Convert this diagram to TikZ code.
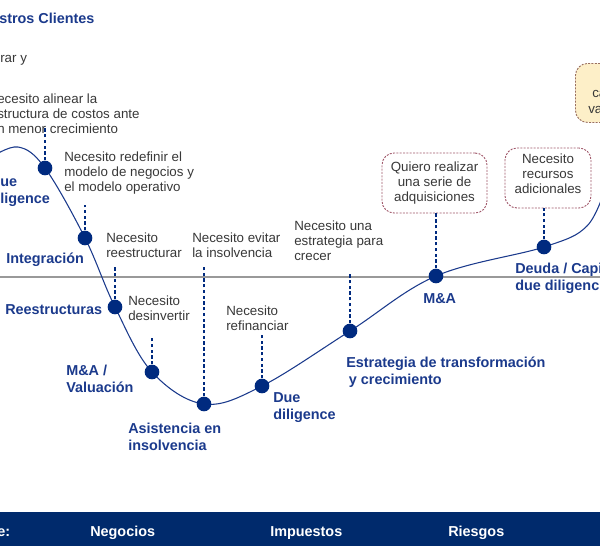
\documentclass[tikz,border=0pt]{standalone}
\usepackage{fontspec}
\setmainfont{Liberation Sans}
\definecolor{navy}{HTML}{1B3A8C}
\definecolor{dotblue}{HTML}{002A7F}
\definecolor{barblue}{HTML}{002A6C}
\definecolor{needgray}{HTML}{383838}
\definecolor{boxred}{HTML}{A0586A}
\definecolor{paleyellow}{HTML}{FDEFC8}
\definecolor{boxbrown}{HTML}{9A7060}
\begin{document}
\begin{tikzpicture}[x=0.75pt,y=-0.75pt,
  need/.style={font=\fontsize{10}{11.25}\selectfont, text=needgray, inner sep=0pt, align=left},
  stage/.style={font=\fontsize{10.8}{12.75}\selectfont\bfseries, text=navy, inner sep=0pt, align=left},
  dot/.style={circle, fill=dotblue, minimum size=11pt, inner sep=0pt},
  lead/.style={dotblue, line width=0.9pt, dash pattern=on 2.5pt off 1.8pt},
  curve/.style={navy, line width=0.8pt},
  needbox/.style={need, align=center, draw=boxred, line width=0.7pt, dash pattern=on 1.5pt off 1pt, rounded corners=9pt},
  bartext/.style={font=\fontsize{10.8}{12}\selectfont\bfseries, text=white, inner sep=0pt, anchor=base west}]
\useasboundingbox (0,0) rectangle (600,546);
\clip (0,0) rectangle (600,546);

%% middle line
\draw[gray!80, line width=1.5pt] (0,277) -- (600,277);

%% the curve and its points
\path (45,168) coordinate (p1) (85,238) coordinate (p2) (115,307) coordinate (p3)
      (152,372) coordinate (p4) (204,404) coordinate (p5) (262,386) coordinate (p6)
      (350,331) coordinate (p7) (436,276) coordinate (p8) (544,247) coordinate (p9);
\draw[curve] plot[smooth, tension=0.6] coordinates {(-10,158) (18,147) (p1) (p2) (p3) (p4) (p5) (p6) (p7) (p8) (p9) (587,226) (606,186)};
\foreach \i in {1,...,9}{
  \node[dot] (d\i) at (p\i) {};
}
\foreach \i/\top in {1/126,2/205,3/267,4/338,5/267,6/335,7/272}{
  \draw[lead] (d\i) -- (d\i |- 0,\top);
}

%% boxes
\node[needbox, minimum width=78.75pt, minimum height=45pt] (b1) at (434.5,183) {Quiero realizar\\una serie de\\adquisiciones};
\node[needbox, minimum width=64.5pt, minimum height=45pt, text depth=6.75pt] (b2) at (548,178) {Necesito\\recursos\\adicionales};
\node[draw=boxbrown, fill=paleyellow, line width=0.7pt, dash pattern=on 1.5pt off 1pt, rounded corners=9pt,
      minimum width=45pt, minimum height=44.25pt, anchor=north west] (b3) at (575,63) {};
\node[need, anchor=base west] (c1) at (592,97) {ca};
\node[need, anchor=base west] (c2) at (588,113) {va};
\draw[lead] (d8) -- (d8 |- b1.south);
\draw[lead] (d9) -- (d9 |- b2.south);

%% needs
\node[need, anchor=base west] (t0) at (0,62.5) {rar y};
\node[need, anchor=north west] (t1) at (-3,93.5) {ecesito alinear la\\structura de costos ante\\n menor crecimiento};
\node[need, anchor=north west] (t2) at (64,152) {Necesito redefinir el\\modelo de negocios y\\el modelo operativo};
\node[need, anchor=north west] (t3) at (106,233) {Necesito\\reestructurar};
\node[need, anchor=north west] (t4) at (192,233) {Necesito evitar\\la insolvencia};
\node[need, anchor=north west] (t5) at (294,221) {Necesito una\\estrategia para\\crecer};
\node[need, anchor=north west] (t6) at (128,296) {Necesito\\desinvertir};
\node[need, anchor=north west] (t7) at (226,306) {Necesito\\refinanciar};

%% stages
\node[stage, anchor=base west] (s0) at (-1,23) {stros Clientes};
\node[stage, anchor=north west] (s1) at (0,178.5) {ue\\ligence};
\node[stage, anchor=base west] (s2) at (6,263) {Integración};
\node[stage, anchor=base west] (s3) at (5,314) {Reestructuras};
\node[stage, anchor=north west] (s4) at (66,364.5) {M\&A /\\Valuación};
\node[stage, anchor=north west] (s5) at (128,422.5) {Asistencia en\\insolvencia};
\node[stage, anchor=north west] (s6) at (273,392.5) {Due\\diligence};
\node[stage, anchor=north west] (s7) at (346,356.3) {Estrategia de transformación\\\hspace*{2pt}y crecimiento};
\node[stage, anchor=base west] (s8) at (423,303) {M\&A};
\node[stage, anchor=north west] (s9) at (515,262.5) {Deuda / Capi\\due diligenc};

%% bottom bar
\fill[barblue] (0,512) rectangle (600,546);
\node[bartext] (n0) at (-3,536) {e:};
\node[bartext] (n1) at (90,536) {Negocios};
\node[bartext] (n2) at (270,536) {Impuestos};
\node[bartext] (n3) at (448,536) {Riesgos};
\end{tikzpicture}
\end{document}
